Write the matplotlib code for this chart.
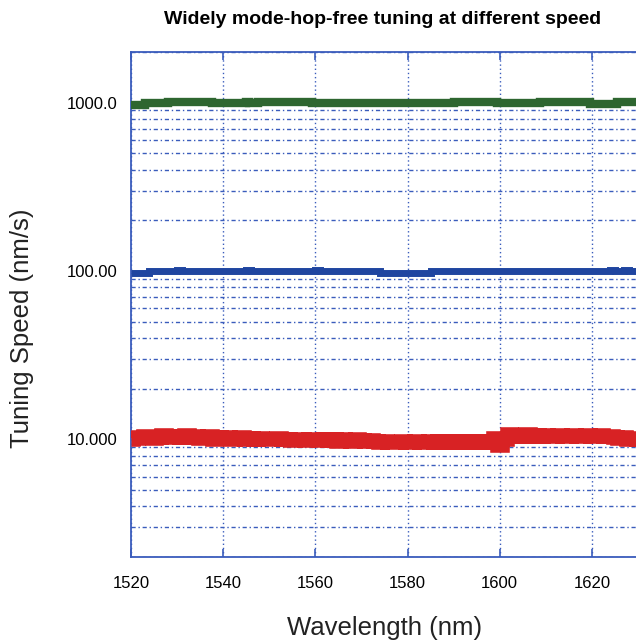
import matplotlib
matplotlib.use("Agg")
import matplotlib.pyplot as plt
from matplotlib.ticker import FixedLocator, LogLocator, NullFormatter

plt.rcParams['font.family'] = ['Liberation Sans', 'DejaVu Sans']

title = "Widely mode-hop-free tuning at different speed"
xlabel = "Wavelength (nm)"
ylabel = "Tuning Speed (nm/s)"
x_ticks = [1520, 1540, 1560, 1580, 1600, 1620]
y_ticks = [10, 100, 1000]
y_tick_labels = ["10.000", "100.00", "1000.0"]

# 1000 nm/s series (step boundaries, values)
green_x = [1520, 1523, 1528, 1537.6, 1545, 1545.6, 1547.5, 1550, 1550.6, 1554, 1554.6,
           1559.3, 1590, 1599.4, 1608.7, 1619.6, 1625.4, 1640]
green_y = [973, 990, 1015, 990, 1008, 990, 1003, 1012, 1003, 1012, 1003,
           990, 1003, 990, 1008, 980, 1003, 1003]

# 100 nm/s series
blue_x = [1520, 1524, 1530, 1531, 1545, 1546, 1560, 1561, 1574, 1585, 1600, 1601,
          1619.5, 1624, 1625, 1627, 1628, 1640]
blue_y = [97.5, 100.2, 101.2, 100.2, 101.0, 100.2, 100.8, 100.2, 97.8, 99.6, 100.4, 99.6,
          100.4, 101.4, 100.4, 101.4, 100.4, 100.4]

# 10 nm/s series
red_x = [1520, 1521, 1522, 1523, 1524, 1525, 1526, 1527, 1528, 1529, 1530, 1531, 1532,
         1533, 1534, 1535, 1536, 1537, 1538, 1539, 1540, 1541, 1542, 1543, 1544, 1545,
         1546, 1547, 1548, 1549, 1550, 1551, 1552, 1553, 1554, 1555, 1556, 1557, 1558,
         1559, 1560, 1561, 1562, 1563, 1564, 1565, 1566, 1567, 1568, 1569, 1570, 1571,
         1572, 1573, 1574, 1575, 1576, 1577, 1578, 1579, 1580, 1581, 1582, 1583, 1584,
         1585, 1586, 1587, 1588, 1589, 1590, 1591, 1592, 1593, 1594, 1595, 1596, 1597,
         1598, 1599, 1600, 1601, 1602, 1603, 1604, 1605, 1606, 1607, 1608, 1609, 1610,
         1611, 1612, 1613, 1614, 1615, 1616, 1617, 1618, 1619, 1620, 1621, 1622, 1623,
         1624, 1625, 1626, 1627, 1628, 1629, 1630, 1640]
red_y = [10.1, 10.2, 10.3, 10.5, 10.4, 10.2, 10.3, 10.6, 10.4, 10.3, 10.5, 10.3, 10.6,
         10.3, 10.4, 10.2, 10.3, 10.4, 10.1, 10.3, 10.2, 10.3, 10.1, 10.2, 10.3, 10.1,
         10.2, 10.0, 10.2, 10.1, 10.1, 10.0, 10.2, 10.0, 10.1, 9.9, 10.1, 10.0, 9.9,
         10.1, 10.0, 9.9, 10.0, 9.9, 10.0, 9.8, 10.0, 9.9, 9.8, 10.0, 9.9, 9.8,
         9.9, 9.8, 9.7, 9.8, 9.7, 9.6, 9.7, 9.8, 9.6, 9.7, 9.8, 9.7, 9.7,
         9.8, 9.7, 9.8, 9.6, 9.8, 9.7, 9.8, 9.7, 9.8, 9.6, 9.8, 9.7, 9.8,
         9.7, 10.2, 9.3, 10.0, 10.7, 10.5, 10.6, 10.4, 10.7, 10.5, 10.6, 10.4, 10.6,
         10.5, 10.4, 10.6, 10.5, 10.4, 10.6, 10.5, 10.4, 10.6, 10.5, 10.4, 10.6, 10.4,
         10.5, 10.3, 10.2, 10.3, 10.1, 10.2, 10.1, 10.1]

spine_c = '#3a5cbc'
grid_c = '#3a5cbc'

fig = plt.figure(figsize=(6.36, 6.42), dpi=100)
ax = fig.add_axes([131/636, 1 - 557/642, 553/636, 505/642])
ax.set_yscale('log')
ax.set_xlim(1520, 1640)
ax.set_ylim(2, 2000)

ax.plot(green_x, green_y, color='#2e6630', lw=6.0, drawstyle='steps-post',
        solid_capstyle='butt', solid_joinstyle='miter', zorder=3)
ax.plot(blue_x, blue_y, color='#1f45a0', lw=5.0, drawstyle='steps-post',
        solid_capstyle='butt', solid_joinstyle='miter', zorder=3)
ax.plot(red_x, red_y, color='#d82224', lw=10.5, drawstyle='steps-mid',
        solid_capstyle='butt', solid_joinstyle='miter', zorder=3)

ax.xaxis.set_major_locator(FixedLocator(x_ticks))
ax.yaxis.set_major_locator(FixedLocator(y_ticks))
ax.set_yticklabels(y_tick_labels)
ax.yaxis.set_minor_locator(LogLocator(base=10, subs=[2, 3, 4, 5, 6, 7, 8, 9]))
ax.yaxis.set_minor_formatter(NullFormatter())

ax.grid(True, which='major', axis='x', color=grid_c, lw=1.0, linestyle=(0, (1, 2)), zorder=1)
ax.grid(True, which='major', axis='y', color=grid_c, lw=1.0, linestyle=(0, (3, 2, 1, 2)), zorder=1)
ax.grid(True, which='minor', axis='y', color=grid_c, lw=1.0, linestyle=(0, (3, 2, 1, 2)), zorder=1)
ax.set_axisbelow(True)

for s in ax.spines.values():
    s.set_color(spine_c)
    s.set_linewidth(1.3)

ax.tick_params(axis='x', which='major', direction='in', length=6, width=1.2, color=spine_c,
               top=True, labelsize=12, pad=14)
ax.tick_params(axis='y', which='major', direction='in', length=0, labelsize=12, pad=10)
ax.tick_params(axis='y', which='minor', length=0)

fig.text(383/636, 1 - 20/642, title, ha='center', va='center', fontsize=14,
         fontweight='bold', fontstretch='condensed')
fig.text(385/636, 1 - 628/642, xlabel, ha='center', va='center', fontsize=18.5, color='#222222')
fig.text(22/636, 1 - 328/642, ylabel, ha='center', va='center', rotation=90, fontsize=18.5, color='#222222')

fig.savefig('out.png', dpi=100)
